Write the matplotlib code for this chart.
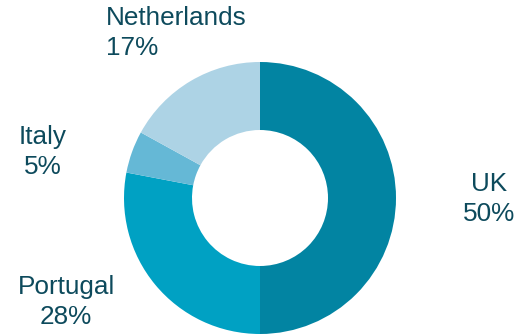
import matplotlib.pyplot as plt

# share by country
countries = ["UK", "Portugal", "Italy", "Netherlands"]
shares = [50, 28, 5, 17]
colors = ["#0284a2", "#00a1c3", "#65b8d6", "#add3e5"]

text_color = "#0d4a5c"
plt.rcParams['font.family'] = ['Liberation Sans', 'DejaVu Sans']

fig = plt.figure(figsize=(5.21, 3.35), dpi=100)
ax = fig.add_axes([0, 0, 1, 1])

# donut, clockwise from 12 o'clock
ax.pie(shares, colors=colors, startangle=90, counterclock=False,
       center=(260, 137), radius=136, frame=True,
       wedgeprops=dict(width=68, edgecolor='none'))
ax.set_xlim(0, 521)
ax.set_ylim(0, 335)
ax.axis('off')

# label positions in pixels (x, y from top)
label_pos = {
    "UK": (489, 199, 'center'),
    "Portugal": (66, 302, 'center'),
    "Italy": (43, 152, 'center'),
    "Netherlands": (106, 33, 'left'),
}
for name, val in zip(countries, shares):
    x, y, ha = label_pos[name]
    ax.text(x, 335 - y, f"{name}\n{val}%", ha=ha, va='center',
            multialignment=ha, fontsize=18.8, color=text_color,
            linespacing=1.3)

fig.savefig("out.png", dpi=100)
